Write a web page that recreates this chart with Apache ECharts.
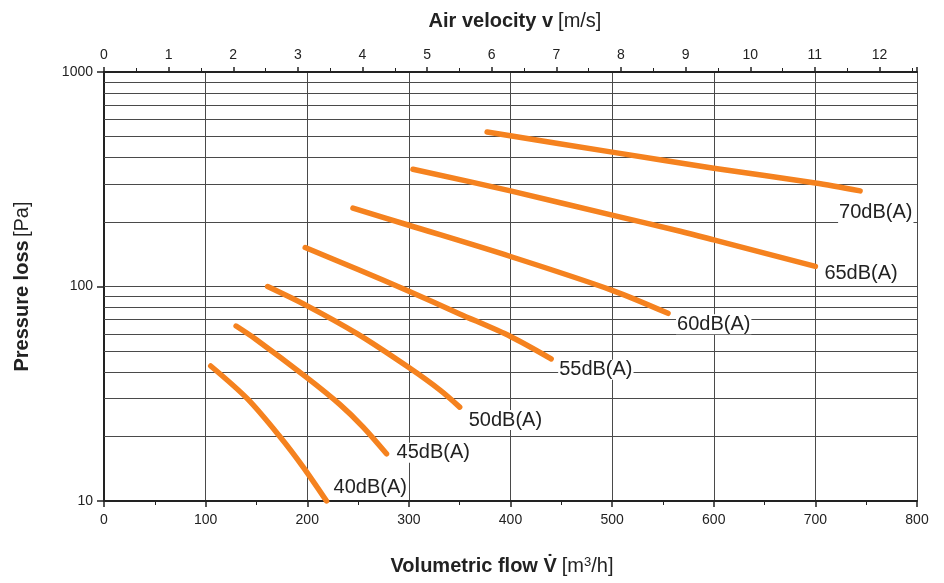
<!DOCTYPE html>
<html>
<head>
<meta charset="utf-8">
<script src="https://cdn.jsdelivr.net/npm/echarts@6/dist/echarts.min.js"></script>
<style>
html,body{margin:0;padding:0;background:#fff;}
#c{width:944px;height:583px;}
</style>
</head>
<body>
<div id="c"></div>
<script>
// ---- data ----
const seriesNames = ['70dB(A)','65dB(A)','60dB(A)','55dB(A)','50dB(A)','45dB(A)','40dB(A)'];
const q70 = [377, 500, 600, 700, 744];
const p70 = [525, 423, 356, 304, 279];
const q65 = [304, 400, 500, 567, 600, 700];
const p65 = [352, 279, 215, 181, 165, 124];
const q60 = [245, 300, 400, 500, 555];
const p60 = [232, 193, 138, 96, 75];
const q55 = [198, 250, 300, 350, 400, 440];
const p55 = [152, 120, 95, 74.5, 58.5, 46];
const q50 = [161, 199, 249, 300, 331, 350];
const p50 = [100, 81.7, 60.3, 41.9, 32.8, 27.4];
const q45 = [130, 150, 199, 232, 255, 278];
const p45 = [65.4, 56.5, 37.8, 28.2, 22.1, 16.6];
const q40 = [105, 141, 173, 196, 219];
const p40 = [42.6, 30, 20, 14.4, 10];
const flowTicks = [0, 800, 100];          // min, max, step (m3/h)
const velocityMax = 12.58;                 // m/s at 800 m3/h
const pressureGrid = [20,30,40,50,60,70,80,90,100,200,300,400,500,600,700,800,900];

const curvesQ = [q70,q65,q60,q55,q50,q45,q40];
const curvesP = [p70,p65,p60,p55,p50,p45,p40];
const labelOffsets = [[-22,22],[8,7],[8,11],[7,11],[8,13],[9,-1],[6,-14]];

const FONT = "'Liberation Sans', Arial, sans-serif";
const ORANGE = '#F5821F';
const TXT = '#222';

const chart = echarts.init(document.getElementById('c'), null, {renderer:'canvas'});

const series = [{
  type: 'line',
  xAxisIndex: 0, yAxisIndex: 0,
  data: [],
  silent: true,
  z: 1,
  markLine: {
    silent: true,
    symbol: ['none','none'],
    label: {show:false},
    animation: false,
    lineStyle: {type:'solid', color:'#4a4a4a', width:1},
    emphasis: {disabled:true},
    data: pressureGrid.map(v => ({yAxis: v}))
  }
}];

curvesQ.forEach((qs, i) => {
  series.push({
    type: 'line',
    name: seriesNames[i],
    xAxisIndex: 0, yAxisIndex: 0,
    data: qs.map((q, j) => [q, curvesP[i][j]]),
    smooth: 0.3,
    showSymbol: false,
    symbol: 'none',
    z: 5,
    lineStyle: {color: ORANGE, width: 5.5, cap: 'round', join: 'round'},
    endLabel: {
      show: true,
      formatter: seriesNames[i],
      position: 'right',
      distance: 0,
      offset: labelOffsets[i],
      color: TXT,
      fontFamily: FONT,
      fontSize: 20,
      backgroundColor: '#fff',
      padding: [0, 1]
    },
    animation: false
  });
});

const richTitle = {
  b: {fontFamily: FONT, fontWeight: 'bold', fontSize: 20, color: TXT},
  n: {fontFamily: FONT, fontWeight: 'normal', fontSize: 20, color: TXT},
  s: {fontFamily: FONT, fontWeight: 'normal', fontSize: 13, color: TXT, verticalAlign: 'top', padding: [0,0,8,0]}
};

const option = {
  animation: false,
  backgroundColor: '#fff',
  grid: {left: 104, right: 27, top: 72, bottom: 82, containLabel: false},
  title: [
    {
      text: '{b|Air velocity v} {n|[m/s]}',
      left: 510, top: 6, textAlign: 'center',
      textStyle: {fontWeight: 'normal', rich: richTitle}
    },
    {
      text: '{b|Volumetric flow V\u0307} {n|[m}{s|3}{n|/h]}',
      left: 497, top: 551, textAlign: 'center',
      textStyle: {fontWeight: 'normal', rich: richTitle}
    }
  ],
  xAxis: [
    {
      type: 'value', position: 'bottom',
      min: flowTicks[0], max: flowTicks[1], interval: flowTicks[2],
      axisLine: {show: true, lineStyle: {color: TXT, width: 2}},
      axisTick: {show: true, length: 6, lineStyle: {color: TXT, width: 1.5}},
      minorTick: {show: true, splitNumber: 2, length: 4, lineStyle: {color: TXT, width: 1}},
      axisLabel: {fontFamily: FONT, fontSize: 14, color: TXT, margin: 12},
      splitLine: {show: true, lineStyle: {color: '#4a4a4a', width: 1}},
      z: 3
    },
    {
      type: 'value', position: 'top',
      min: 0, max: velocityMax, interval: 1,
      axisLine: {show: true, onZero: false, lineStyle: {color: TXT, width: 2}},
      axisTick: {show: true, length: 5, lineStyle: {color: TXT, width: 1.5}},
      minorTick: {show: true, splitNumber: 2, length: 4, lineStyle: {color: TXT, width: 1}},
      axisLabel: {fontFamily: FONT, fontSize: 14, color: TXT, margin: 10, showMaxLabel: false},
      splitLine: {show: false},
      z: 3
    }
  ],
  yAxis: [{
    type: 'log', logBase: 10, min: 10, max: 1000,
    name: '{b|Pressure loss} {n|[Pa]}',
    nameLocation: 'middle', nameGap: 72, nameRotate: 90,
    nameTextStyle: {fontWeight: 'normal', rich: richTitle},
    axisLine: {show: true, lineStyle: {color: TXT, width: 2}},
    axisTick: {show: true, length: 7, lineStyle: {color: TXT, width: 1.5}},
    minorTick: {show: false},
    axisLabel: {fontFamily: FONT, fontSize: 14, color: TXT, margin: 11, formatter: v => String(Math.round(v))},
    splitLine: {show: false},
    z: 3
  }],
  series: series
};
chart.setOption(option);
</script>
</body>
</html>
